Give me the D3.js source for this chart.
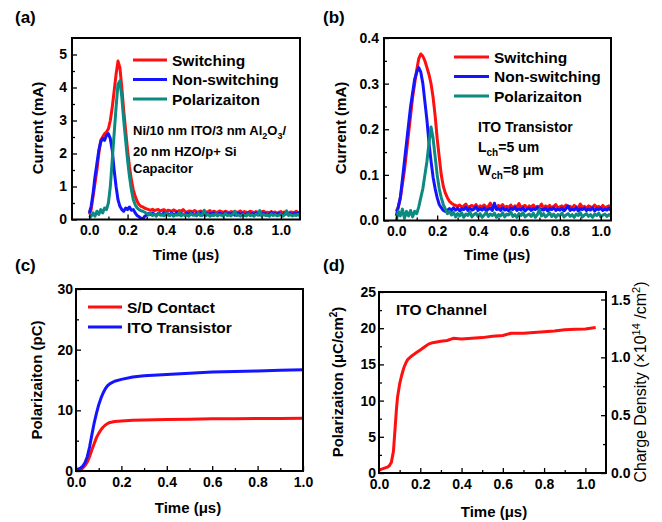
<!DOCTYPE html>
<html>
<head>
<meta charset="utf-8">
<script src="https://cdn.jsdelivr.net/npm/d3@7"></script>
<style>
  body { margin: 0; background: #fff; }
  svg text { font-family: Arial, "Liberation Sans", sans-serif; font-weight: bold; fill: #000; }
</style>
</head>
<body>
<div id="chart"></div>
<script>
// Cores
const RED = '#ff1010';
const BLUE = '#1414ff';
const TEAL = '#0a8a80';

// --- Dados (a): capacitor (pico) ---
const aSwitchingPeak = [[0.0,0.15],[0.01,0.3],[0.02,0.7],[0.03,1.1],[0.04,1.5],[0.05,2.0],[0.06,2.4],[0.07,2.5],[0.08,2.6],[0.09,2.65],[0.1,2.75],[0.11,3.0],[0.12,3.4],[0.13,3.9],[0.14,4.4],[0.15,4.8],[0.16,4.6],[0.17,4.0],[0.18,3.3],[0.19,2.7],[0.2,2.1],[0.21,1.6],[0.22,1.2],[0.23,0.9],[0.24,0.7],[0.25,0.55],[0.26,0.45],[0.27,0.4],[0.28,0.38],[0.29,0.34]];
const aNonSwitchingPeak = [[0.0,0.2],[0.01,0.4],[0.02,0.8],[0.03,1.3],[0.04,1.7],[0.05,2.1],[0.06,2.35],[0.07,2.45],[0.08,2.4],[0.09,2.55],[0.1,2.6],[0.11,2.45],[0.12,2.1],[0.13,1.5],[0.14,1.0],[0.15,0.6],[0.16,0.4],[0.17,0.3],[0.18,0.25],[0.19,0.35],[0.2,0.3],[0.21,0.38],[0.22,0.28],[0.23,0.3],[0.24,0.2],[0.25,0.12],[0.26,0.08],[0.27,0.04],[0.28,0.02]];
const aPolarizationPeak = [[0.0,0.05],[0.01,0.1],[0.02,0.2],[0.03,0.1],[0.04,0.25],[0.05,0.15],[0.06,0.3],[0.07,0.2],[0.08,0.35],[0.09,0.3],[0.1,0.5],[0.11,1.0],[0.12,1.8],[0.13,2.6],[0.14,3.4],[0.15,4.1],[0.16,4.2],[0.17,3.7],[0.18,3.0],[0.19,2.4],[0.2,1.8],[0.21,1.3],[0.22,0.9],[0.23,0.6],[0.24,0.45],[0.25,0.35],[0.26,0.3],[0.27,0.27],[0.28,0.25]];
// (a) cauda ruidosa, amostras a cada 0.01 us
const aSwitchingTail = [0.32,0.3,0.28,0.31,0.27,0.29,0.3,0.26,0.28,0.3,0.25,0.28,0.27,0.24,0.29,0.26,0.23,0.27,0.25,0.3,0.24,0.22,0.26,0.25,0.23,0.27,0.24,0.22,0.26,0.23,0.25,0.22,0.24,0.27,0.21,0.25,0.23,0.22,0.26,0.24,0.21,0.25,0.23,0.2,0.24,0.22,0.25,0.21,0.23,0.26,0.2,0.24,0.22,0.21,0.25,0.23,0.2,0.24,0.22,0.19,0.23,0.25,0.21,0.22,0.2,0.24,0.21,0.23,0.19,0.22,0.24,0.2,0.23,0.21,0.19,0.23,0.22,0.2,0.25,0.21,0.2,0.22];
const aNonSwitchingTail = [0.1,0.14,0.18,0.15,0.2,0.16,0.13,0.19,0.17,0.14,0.21,0.16,0.18,0.13,0.2,0.15,0.17,0.22,0.14,0.18,0.16,0.13,0.19,0.15,0.2,0.17,0.14,0.18,0.16,0.21,0.13,0.17,0.19,0.15,0.18,0.14,0.2,0.16,0.13,0.19,0.17,0.15,0.21,0.14,0.18,0.16,0.2,0.13,0.17,0.19,0.15,0.18,0.14,0.16,0.2,0.13,0.18,0.15,0.19,0.17,0.14,0.2,0.16,0.18,0.13,0.17,0.21,0.15,0.18,0.14,0.19,0.16,0.13,0.2,0.17,0.15,0.18,0.14,0.19,0.16,0.2,0.15,0.17];
const aPolarizationTail = [0.22,0.18,0.14,0.2,0.12,0.16,0.1,0.18,0.13,0.15,0.11,0.2,0.14,0.12,0.17,0.1,0.15,0.13,0.22,0.11,0.16,0.12,0.14,0.1,0.18,0.13,0.15,0.11,0.19,0.12,0.14,0.28,0.12,0.16,0.1,0.14,0.12,0.17,0.11,0.15,0.13,0.1,0.18,0.12,0.14,0.11,0.16,0.25,0.12,0.14,0.1,0.15,0.13,0.11,0.17,0.12,0.14,0.1,0.16,0.13,0.27,0.11,0.15,0.12,0.14,0.1,0.17,0.12,0.15,0.11,0.13,0.16,0.1,0.14,0.26,0.12,0.15,0.11,0.14,0.12,0.16,0.1,0.13];

// --- Dados (b): transistor (pico) ---
const bSwitchingPeak = [[0.0,0.02],[0.01,0.03],[0.02,0.05],[0.03,0.08],[0.04,0.11],[0.05,0.15],[0.06,0.19],[0.07,0.23],[0.08,0.27],[0.09,0.3],[0.1,0.33],[0.11,0.355],[0.12,0.365],[0.13,0.36],[0.14,0.35],[0.15,0.335],[0.16,0.32],[0.17,0.3],[0.18,0.27],[0.19,0.23],[0.2,0.18],[0.21,0.14],[0.22,0.1],[0.23,0.075],[0.24,0.06],[0.25,0.05]];
const bNonSwitchingPeak = [[0.0,0.01],[0.01,0.03],[0.02,0.05],[0.03,0.09],[0.04,0.13],[0.05,0.17],[0.06,0.21],[0.07,0.25],[0.08,0.28],[0.09,0.31],[0.1,0.325],[0.11,0.335],[0.12,0.325],[0.13,0.3],[0.14,0.26],[0.15,0.22],[0.16,0.17],[0.17,0.13],[0.18,0.095],[0.19,0.07],[0.2,0.05],[0.21,0.035],[0.22,0.028],[0.23,0.022],[0.24,0.02],[0.25,0.022]];
const bPolarizationPeak = [[0.0,0.0],[0.01,0.02],[0.02,0.01],[0.03,0.025],[0.04,0.005],[0.05,0.02],[0.06,0.01],[0.07,0.022],[0.08,0.008],[0.09,0.02],[0.1,0.015],[0.11,0.03],[0.12,0.05],[0.13,0.07],[0.14,0.1],[0.15,0.13],[0.16,0.17],[0.17,0.205],[0.18,0.18],[0.19,0.14],[0.2,0.1],[0.21,0.07],[0.22,0.05],[0.23,0.035],[0.24,0.025],[0.25,0.015]];
// (b) cauda ruidosa, amostras a cada 0.01 us a partir de 0.26
const bSwitchingTail = [0.042,0.038,0.035,0.033,0.031,0.034,0.029,0.032,0.036,0.028,0.031,0.033,0.029,0.035,0.027,0.032,0.03,0.034,0.028,0.031,0.038,0.029,0.032,0.027,0.033,0.03,0.035,0.028,0.031,0.029,0.034,0.027,0.032,0.03,0.037,0.028,0.031,0.033,0.027,0.032,0.029,0.034,0.028,0.031,0.03,0.036,0.027,0.032,0.029,0.033,0.028,0.031,0.035,0.027,0.03,0.032,0.028,0.034,0.029,0.031,0.027,0.033,0.03,0.028,0.036,0.029,0.031,0.027,0.032,0.03,0.028,0.034,0.029,0.031,0.027,0.033,0.028,0.03,0.032,0.027,0.031];
const bNonSwitchingTail = [0.026,0.022,0.028,0.023,0.027,0.021,0.026,0.024,0.029,0.022,0.027,0.023,0.025,0.03,0.022,0.026,0.023,0.028,0.021,0.025,0.027,0.022,0.038,0.024,0.026,0.022,0.028,0.023,0.025,0.021,0.027,0.024,0.029,0.022,0.026,0.023,0.028,0.021,0.025,0.027,0.022,0.026,0.024,0.029,0.022,0.025,0.023,0.027,0.021,0.026,0.024,0.028,0.022,0.025,0.023,0.027,0.021,0.026,0.032,0.022,0.025,0.023,0.028,0.021,0.026,0.024,0.027,0.022,0.025,0.023,0.028,0.021,0.026,0.024,0.027,0.022,0.025,0.023,0.027,0.022,0.026];
const bPolarizationTail = [0.02,0.012,0.018,0.008,0.015,0.01,0.017,0.007,0.014,0.011,0.019,0.008,0.013,0.016,0.009,0.015,0.007,0.012,0.018,0.009,0.014,0.011,0.016,0.007,0.013,0.01,0.017,0.008,0.014,0.012,0.019,0.009,0.013,0.007,0.015,0.011,0.017,0.008,0.012,0.014,0.009,0.016,0.007,0.013,0.024,0.01,0.015,0.008,0.012,0.017,0.009,0.014,0.007,0.013,0.011,0.016,0.008,0.012,0.015,0.009,0.013,0.007,0.014,0.011,0.017,0.008,0.012,0.015,0.009,0.013,0.007,0.014,0.011,0.016,0.008,0.012,0.014,0.009,0.013,0.01,0.015];

// --- Dados (c): polarizacao integrada ---
const cContact = [[0.0,0.0],[0.01,0.05],[0.02,0.2],[0.03,0.5],[0.04,0.9],[0.05,1.5],[0.06,2.4],[0.07,3.5],[0.08,4.5],[0.09,5.5],[0.1,6.2],[0.11,6.8],[0.12,7.25],[0.13,7.6],[0.14,7.85],[0.15,8.0],[0.17,8.15],[0.2,8.25],[0.25,8.35],[0.3,8.4],[0.4,8.5],[0.5,8.55],[0.6,8.6],[0.7,8.6],[0.8,8.65],[0.9,8.65],[1.0,8.7]];
const cTransistor = [[0.0,0.2],[0.01,0.3],[0.02,0.5],[0.03,0.8],[0.04,1.4],[0.05,2.4],[0.06,4.0],[0.07,6.0],[0.08,7.9],[0.09,9.5],[0.1,10.9],[0.11,12.0],[0.12,12.9],[0.13,13.6],[0.14,14.1],[0.15,14.4],[0.17,14.8],[0.2,15.1],[0.25,15.5],[0.3,15.7],[0.4,15.9],[0.5,16.1],[0.6,16.3],[0.7,16.4],[0.8,16.5],[0.9,16.6],[1.0,16.7]];

// --- Dados (d): canal ITO ---
const dChannel = [[0.0,0.4],[0.02,0.6],[0.04,0.8],[0.05,1.0],[0.06,1.5],[0.07,3.0],[0.075,5.0],[0.08,7.0],[0.085,9.0],[0.09,10.5],[0.1,12.3],[0.11,13.5],[0.12,14.5],[0.13,15.2],[0.14,15.7],[0.16,16.2],[0.18,16.6],[0.2,17.0],[0.22,17.4],[0.24,17.8],[0.26,18.0],[0.3,18.2],[0.33,18.3],[0.36,18.6],[0.4,18.5],[0.45,18.6],[0.5,18.7],[0.55,18.9],[0.6,19.0],[0.64,19.3],[0.7,19.3],[0.75,19.4],[0.8,19.5],[0.85,19.6],[0.9,19.8],[0.95,19.85],[1.0,19.9],[1.05,20.1]];

const legendAB = ['Switching', 'Non-switching', 'Polarizaiton'];
const legendC = ['S/D Contact', 'ITO Transistor'];

// junta pico + cauda amostrada a cada 0.01 us
function withTail(peak, tail, t0) {
  return peak.concat(tail.map((v, i) => [t0 + i * 0.01, v]));
}

const svg = d3.select('#chart').append('svg')
  .attr('width', 662)
  .attr('height', 522);

const line = (x, y) => d3.line().x(d => x(d[0])).y(d => y(d[1]));
let clipId = 0;

// Desenha um painel com moldura, eixos com ticks para dentro e series
function drawPanel(cfg) {
  const { l, t, r, b } = cfg.box;
  const x = d3.scaleLinear().domain(cfg.xDomain).range([l, r]);
  const y = d3.scaleLinear().domain(cfg.yDomain).range([b, t]);
  const g = svg.append('g');

  const id = 'clip' + (clipId++);
  svg.append('clipPath').attr('id', id)
    .append('rect').attr('x', l).attr('y', t).attr('width', r - l).attr('height', b - t);

  const plot = g.append('g').attr('clip-path', `url(#${id})`);
  cfg.series.forEach(s => {
    plot.append('path')
      .datum(s.data)
      .attr('fill', 'none')
      .attr('stroke', s.color)
      .attr('stroke-width', s.width || 3)
      .attr('stroke-linejoin', 'round')
      .attr('d', line(x, y));
  });

  // eixo x
  g.append('g').attr('transform', `translate(0,${b})`)
    .call(d3.axisBottom(x).tickValues(cfg.xTicks).tickFormat(d3.format('.1f'))
      .tickSizeInner(-5).tickSizeOuter(0).tickPadding(cfg.xPad || 6));
  g.append('g').attr('transform', `translate(0,${b})`)
    .call(d3.axisBottom(x).tickValues(cfg.xMinor).tickFormat('').tickSizeInner(-3).tickSizeOuter(0));

  // eixo y
  g.append('g').attr('transform', `translate(${l},0)`)
    .call(d3.axisLeft(y).tickValues(cfg.yTicks).tickFormat(cfg.yFormat)
      .tickSizeInner(-5).tickSizeOuter(0).tickPadding(cfg.yPad || 5));
  g.append('g').attr('transform', `translate(${l},0)`)
    .call(d3.axisLeft(y).tickValues(cfg.yMinor).tickFormat('').tickSizeInner(-3).tickSizeOuter(0));

  if (cfg.y2) {
    const y2 = d3.scaleLinear().domain(cfg.y2.domain).range([b, t]);
    g.append('g').attr('transform', `translate(${r},0)`)
      .call(d3.axisRight(y2).tickValues(cfg.y2.ticks).tickFormat(d3.format('.1f'))
        .tickSizeInner(-5).tickSizeOuter(0).tickPadding(5));
    g.append('g').attr('transform', `translate(${r},0)`)
      .call(d3.axisRight(y2).tickValues(cfg.y2.minor).tickFormat('').tickSizeInner(-3).tickSizeOuter(0));
  }

  g.selectAll('.domain').remove();
  g.selectAll('.tick line').attr('stroke', '#000').attr('stroke-width', 1.3);
  g.selectAll('.tick text').style('font-size', '14px');

  g.append('rect')
    .attr('x', l).attr('y', t).attr('width', r - l).attr('height', b - t)
    .attr('fill', 'none').attr('stroke', '#000').attr('stroke-width', 2);

  // legenda
  if (cfg.legend) {
    const lg = cfg.legend;
    lg.names.forEach((name, i) => {
      const yy = lg.y + i * lg.dy;
      g.append('line')
        .attr('x1', lg.x).attr('x2', lg.x + lg.len)
        .attr('y1', yy).attr('y2', yy)
        .attr('stroke', lg.colors[i]).attr('stroke-width', 3);
      g.append('text')
        .attr('x', lg.x + lg.len + 5).attr('y', yy + 5.5)
        .style('font-size', '15.5px')
        .text(name);
    });
  }
  return { x, y, g };
}

function panelLabel(txt, xPos, yPos) {
  svg.append('text').attr('x', xPos).attr('y', yPos)
    .style('font-size', '17px').text(txt);
}

function xTitle(cx, yPos) {
  svg.append('text').attr('x', cx).attr('y', yPos)
    .attr('text-anchor', 'middle').style('font-size', '15px')
    .text('Time (\u03bcs)');
}

function yTitle(cx, cy) {
  return svg.append('text')
    .attr('transform', `translate(${cx},${cy}) rotate(-90)`)
    .attr('text-anchor', 'middle').style('font-size', '15px');
}

// --- (a) ---
const ticks6 = [0, 0.2, 0.4, 0.6, 0.8, 1.0];

drawPanel({
  box: { l: 72, t: 38, r: 300, b: 219.5 },
  xDomain: [-0.09, 1.1], yDomain: [0, 5.5],
  xTicks: ticks6, xMinor: [0.1, 0.3, 0.5, 0.7, 0.9],
  yTicks: [0, 1, 2, 3, 4, 5], yMinor: [0.5, 1.5, 2.5, 3.5, 4.5],
  yFormat: d3.format('d'),
  series: [
    { data: withTail(aSwitchingPeak, aSwitchingTail, 0.3), color: RED },
    { data: withTail(aNonSwitchingPeak, aNonSwitchingTail, 0.29), color: BLUE },
    { data: withTail(aPolarizationPeak, aPolarizationTail, 0.29), color: TEAL }
  ],
  legend: { x: 133, y: 60, dy: 19.5, len: 34, names: legendAB, colors: [RED, BLUE, TEAL] }
});
panelLabel('(a)', 15, 23);
xTitle(186, 260);
yTitle(43, 128).text('Current (mA)');
const la1 = svg.append('text').attr('x', 133).attr('y', 135).style('font-size', '13px');
la1.append('tspan').text('Ni/10 nm ITO/3 nm Al');
la1.append('tspan').attr('dy', 4).style('font-size', '9px').text('2');
la1.append('tspan').attr('dy', -4).text('O');
la1.append('tspan').attr('dy', 4).style('font-size', '9px').text('3');
la1.append('tspan').attr('dy', -4).text('/');
svg.append('text').attr('x', 133).attr('y', 156).style('font-size', '13px').text('20 nm HZO/p+ Si');
svg.append('text').attr('x', 133).attr('y', 173).style('font-size', '13px').text('Capacitor');

// --- (b) ---
drawPanel({
  box: { l: 384, t: 38, r: 611, b: 220.5 },
  xDomain: [-0.06, 1.05], yDomain: [0, 0.4],
  xTicks: ticks6, xMinor: [0.1, 0.3, 0.5, 0.7, 0.9],
  yTicks: [0, 0.1, 0.2, 0.3, 0.4], yMinor: [0.05, 0.15, 0.25, 0.35],
  yFormat: d3.format('.1f'),
  series: [
    { data: withTail(bSwitchingPeak, bSwitchingTail, 0.26), color: RED },
    { data: withTail(bNonSwitchingPeak, bNonSwitchingTail, 0.26), color: BLUE },
    { data: withTail(bPolarizationPeak, bPolarizationTail, 0.26), color: TEAL }
  ],
  legend: { x: 454, y: 57, dy: 19.5, len: 35, names: legendAB, colors: [RED, BLUE, TEAL] }
});
panelLabel('(b)', 323, 23);
xTitle(497, 260);
yTitle(346, 128).text('Current (mA)');
svg.append('text').attr('x', 478).attr('y', 132).style('font-size', '14px').text('ITO Transistor');
const lb1 = svg.append('text').attr('x', 478).attr('y', 152).style('font-size', '14px');
lb1.append('tspan').text('L');
lb1.append('tspan').attr('dy', 4).style('font-size', '10px').text('ch');
lb1.append('tspan').attr('dy', -4).text('=5 um');
const lb2 = svg.append('text').attr('x', 478).attr('y', 175).style('font-size', '14px');
lb2.append('tspan').text('W');
lb2.append('tspan').attr('dy', 4).style('font-size', '10px').text('ch');
lb2.append('tspan').attr('dy', -4).text('=8 \u03bcm');

// --- (c) ---
drawPanel({
  box: { l: 76, t: 289, r: 303, b: 471 },
  xDomain: [0, 1.0], yDomain: [0, 30],
  xTicks: ticks6, xMinor: [0.1, 0.3, 0.5, 0.7, 0.9],
  yTicks: [0, 10, 20, 30], yMinor: [5, 15, 25],
  yFormat: d3.format('d'), xPad: 6, yPad: 3,
  series: [
    { data: cContact, color: RED },
    { data: cTransistor, color: BLUE }
  ],
  legend: { x: 88, y: 307, dy: 20, len: 34, names: legendC, colors: [RED, BLUE] }
});
panelLabel('(c)', 15, 271);
xTitle(188, 513);
yTitle(42, 380).text('Polarizaiton (pC)');

// --- (d) ---
drawPanel({
  box: { l: 379, t: 292, r: 606, b: 473 },
  xDomain: [0, 1.1], yDomain: [0, 25],
  xTicks: ticks6, xMinor: [0.1, 0.3, 0.5, 0.7, 0.9],
  yTicks: [0, 5, 10, 15, 20, 25], yMinor: [2.5, 7.5, 12.5, 17.5, 22.5],
  yFormat: d3.format('d'), xPad: 6, yPad: 3,
  series: [{ data: dChannel, color: RED }],
  y2: { domain: [0, 1.565], ticks: [0, 0.5, 1.0, 1.5], minor: [0.25, 0.75, 1.25] }
});
panelLabel('(d)', 323, 271);
xTitle(494, 517);
svg.append('text').attr('x', 396).attr('y', 315).style('font-size', '15.5px').text('ITO Channel');
const yd = yTitle(343, 382);
yd.append('tspan').text('Polarizaiton (\u03bcC/cm');
yd.append('tspan').attr('dy', -6).style('font-size', '10px').text('2');
yd.append('tspan').attr('dy', 6).text(')');
const yd2 = yTitle(646, 382).style('font-weight', 'normal').style('font-size', '16px');
yd2.append('tspan').text('Charge Density (\u00d710');
yd2.append('tspan').attr('dy', -6).style('font-size', '11px').text('14');
yd2.append('tspan').attr('dy', 6).text(' /cm');
yd2.append('tspan').attr('dy', -6).style('font-size', '11px').text('2');
yd2.append('tspan').attr('dy', 6).text(')');
</script>
</body>
</html>
